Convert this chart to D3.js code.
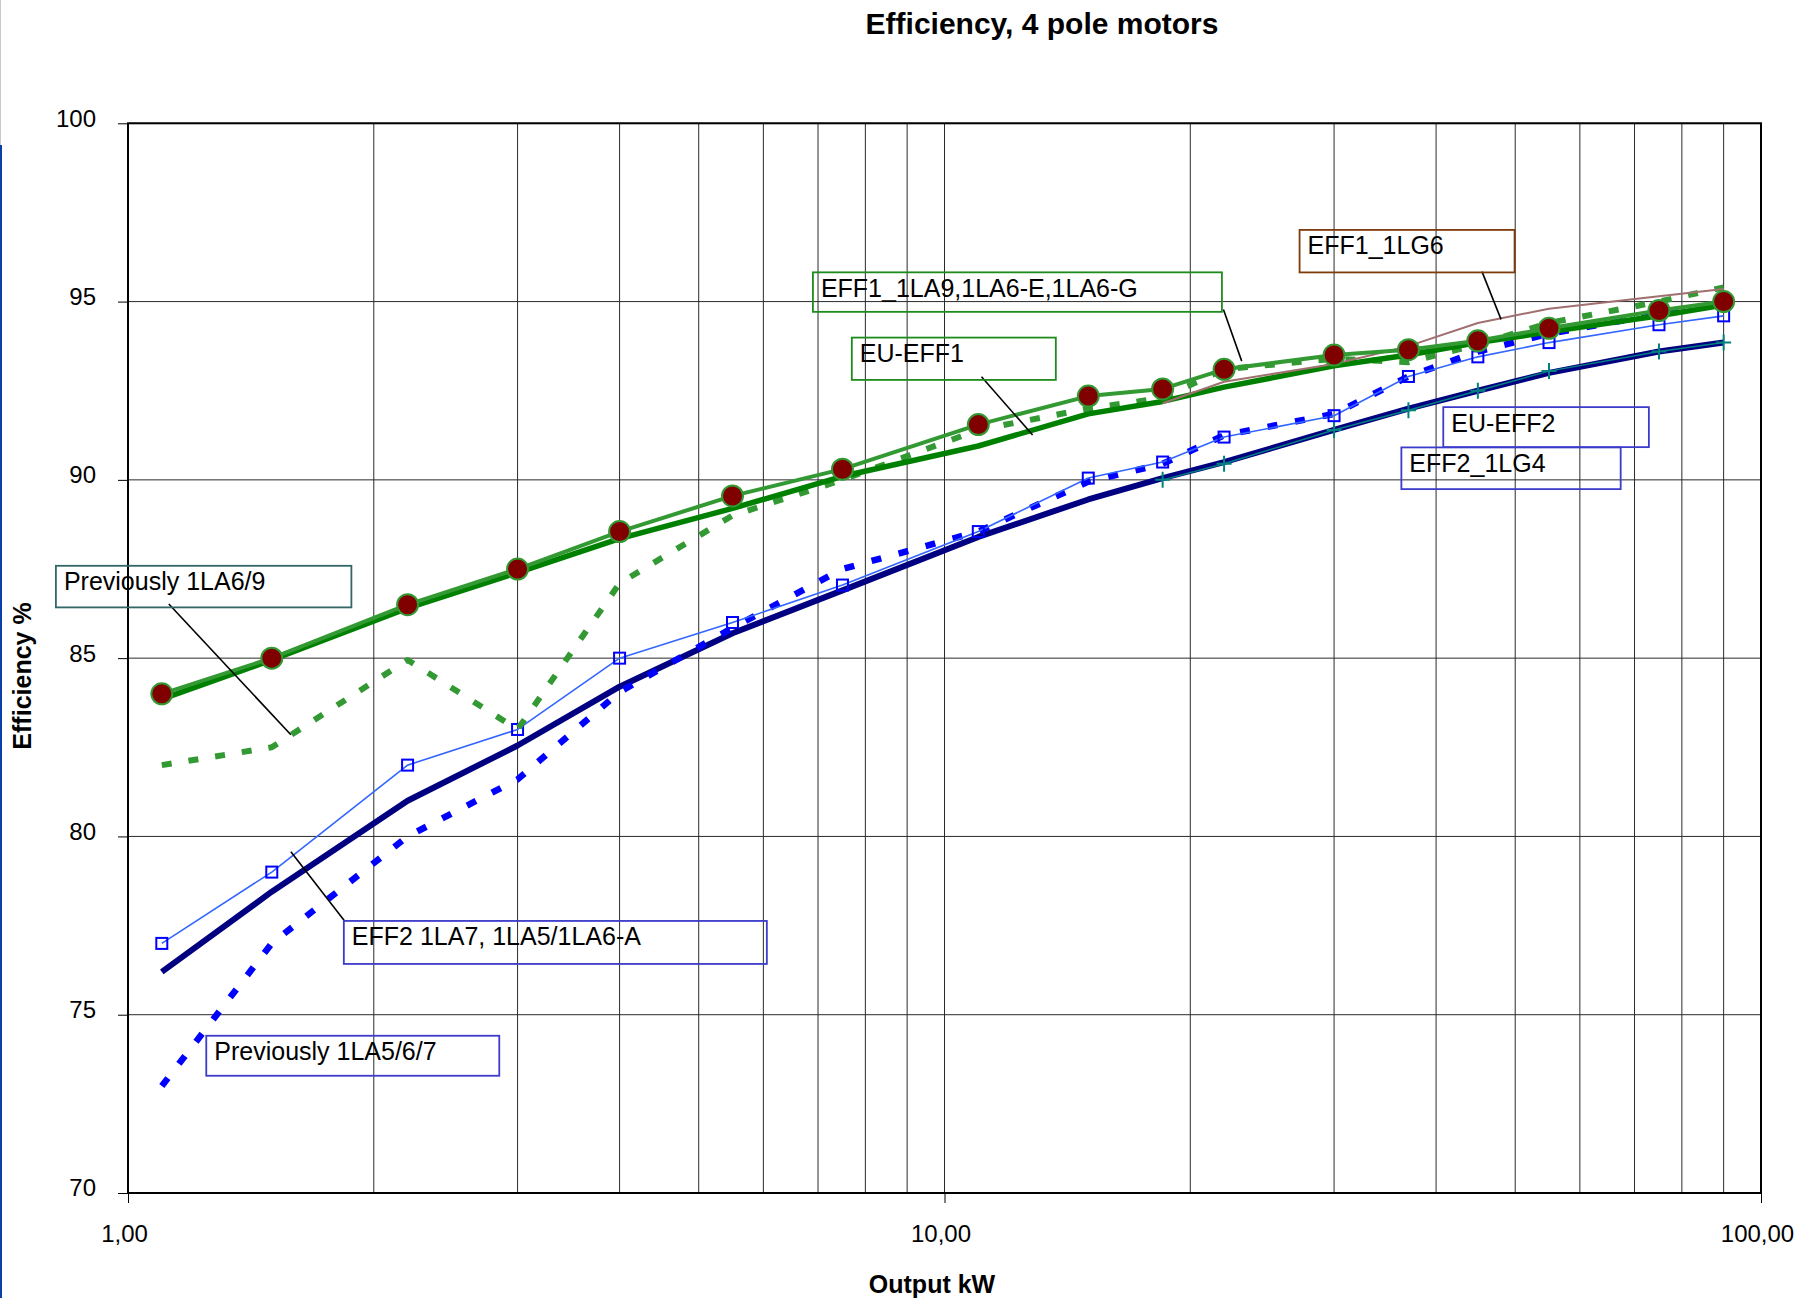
<!DOCTYPE html>
<html>
<head>
<meta charset="utf-8">
<script src="https://cdn.jsdelivr.net/npm/d3@7"></script>
<style>
    body { margin: 0; background: #fff; }
    svg { display: block; font-family: "Liberation Sans", Arial, sans-serif; }
</style>
</head>
<body>
<div id="page"></div>
<script>
// motor ratings, kW
var kw = [1.1, 1.5, 2.2, 3, 4, 5.5, 7.5, 11, 15, 18.5, 22, 30, 37, 45, 55, 75, 90];
var kwLG = [18.5, 22, 30, 37, 45, 55, 75, 90];

// efficiency %
var eff1LA9 = [84.0, 85.0, 86.5, 87.5, 88.55, 89.55, 90.3, 91.55, 92.35, 92.55, 93.1, 93.5, 93.65, 93.9, 94.25, 94.75, 95.0];
var euEff1 = [83.85, 84.95, 86.4, 87.4, 88.35, 89.2, 90.1, 90.95, 91.85, 92.2, 92.6, 93.2, 93.5, 93.85, 94.15, 94.6, 94.9];
var prev1LA69 = [82.0, 82.5, 84.95, 83.0, 87.1, 89.0, 90.0, 91.4, 92.0, 92.3, 93.1, 93.4, 93.3, 93.8, 94.4, 95.0, 95.4];
var eff1LG6 = [92.15, 92.75, 93.25, 93.75, 94.4, 94.8, 95.15, 95.35];
var euEff2 = [76.2, 78.45, 81.0, 82.55, 84.2, 85.7, 86.9, 88.4, 89.45, 90.05, 90.5, 91.4, 92.0, 92.5, 93.0, 93.6, 93.85];
var eff2LG4 = [90.0, 90.45, 91.4, 91.95, 92.5, 93.05, 93.6, 93.85];
var eff2LA7 = [77.0, 79.0, 82.0, 83.0, 85.0, 86.0, 87.05, 88.55, 90.05, 90.5, 91.2, 91.8, 92.9, 93.45, 93.85, 94.35, 94.6];
var prev1LA567 = [73.0, 77.0, 80.0, 81.6, 84.05, 85.85, 87.5, 88.55, 89.95, 90.45, 91.25, 91.85, 92.9, 93.6, 94.1, 94.65, 94.95];

var yTicks = [70, 75, 80, 85, 90, 95, 100];
var xTicks = [1, 10, 100];
var xGrid = [2, 3, 4, 5, 6, 7, 8, 9, 10, 20, 30, 40, 50, 60, 70, 80, 90];

var labelTexts = ['EFF1_1LA9,1LA6-E,1LA6-G', 'EFF1_1LG6', 'EU-EFF1', 'Previously 1LA6/9',
    'EFF2 1LA7, 1LA5/1LA6-A', 'Previously 1LA5/6/7', 'EU-EFF2', 'EFF2_1LG4'];

window.onload = () => {
    const W = 1796, H = 1298;
    let svg = d3.select('#page').append('svg').attr('width', W).attr('height', H);

    let x = d3.scaleLog().domain([1, 100]).range([128, 1761]);
    let y = d3.scaleLinear().domain([70, 100]).range([1193, 123.3]);

    // left edge of the scanned page
    svg.append('line').attr('x1', 0.5).attr('x2', 0.5).attr('y1', 0).attr('y2', 145).attr('stroke', '#c8c8c8').attr('stroke-width', 1);
    svg.append('line').attr('x1', 1).attr('x2', 1).attr('y1', 145).attr('y2', H).attr('stroke', '#0a3ea8').attr('stroke-width', 2);

    // grid
    let grid = svg.append('g').attr('stroke', '#2a2a2a').attr('stroke-width', 1);
    grid.selectAll('.vg').data(xGrid).join('line').attr('class', 'vg')
        .attr('x1', d => x(d)).attr('x2', d => x(d)).attr('y1', y(100)).attr('y2', y(70));
    grid.selectAll('.hg').data(yTicks).join('line').attr('class', 'hg')
        .attr('x1', x(1)).attr('x2', x(100)).attr('y1', d => y(d)).attr('y2', d => y(d));

    // axes
    let yAxis = svg.append('g').attr('transform', 'translate(' + x(1) + ',0)')
        .call(d3.axisLeft(y).tickValues(yTicks).tickSize(10).tickPadding(22).tickFormat(d3.format('d')));
    let xAxis = svg.append('g').attr('transform', 'translate(0,' + y(70) + ')')
        .call(d3.axisBottom(x).tickValues(xTicks).tickSize(10).tickPadding(22)
            .tickFormat(d => d3.format('.2f')(d).replace('.', ',')));
    [yAxis, xAxis].forEach(a => {
        a.select('.domain').remove();
        a.selectAll('line').attr('stroke', '#000');
        a.selectAll('text').attr('font-size', 24).attr('fill', '#000').attr('font-family', '"Liberation Sans", Arial, sans-serif');
    });
    yAxis.selectAll('text').attr('dy', '0.12em');
    xAxis.selectAll('text').attr('dx', -4);

    svg.append('rect').attr('x', x(1)).attr('y', y(100)).attr('width', x(100) - x(1)).attr('height', y(70) - y(100))
        .attr('fill', 'none').attr('stroke', '#000').attr('stroke-width', 2);

    // series
    let series = [
        { name: 'EU-EFF2', xs: kw, ys: euEff2, color: '#000080', width: 6 },
        { name: 'EFF2_1LG4', xs: kwLG, ys: eff2LG4, color: '#008080', width: 1.5, marker: 'plus' },
        { name: 'Previously 1LA5/6/7', xs: kw, ys: prev1LA567, color: '#0000ff', width: 6.5, dash: '10,18' },
        { name: 'EFF2 1LA7, 1LA5/1LA6-A', xs: kw, ys: eff2LA7, color: '#3366ff', width: 1.6, marker: 'square' },
        { name: 'Previously 1LA6/9', xs: kw, ys: prev1LA69, color: '#339933', width: 6, dash: '10,17' },
        { name: 'EU-EFF1', xs: kw, ys: euEff1, color: '#008000', width: 5.5 },
        { name: 'EFF1_1LG6', xs: kwLG, ys: eff1LG6, color: '#a07070', width: 2 },
        { name: 'EFF1_1LA9,1LA6-E,1LA6-G', xs: kw, ys: eff1LA9, color: '#339933', width: 4, marker: 'circle' }
    ];
    let line = d3.line().x(d => x(d[0])).y(d => y(d[1]));
    series.forEach(s => {
        let pts = d3.zip(s.xs, s.ys);
        svg.append('path').datum(pts).attr('d', line)
            .attr('fill', 'none').attr('stroke', s.color).attr('stroke-width', s.width)
            .attr('stroke-dasharray', s.dash || null).attr('stroke-linejoin', 'round');
        let g = svg.append('g');
        if (s.marker == 'circle') {
            g.selectAll('circle').data(pts).join('circle')
                .attr('cx', d => x(d[0])).attr('cy', d => y(d[1])).attr('r', 10.5)
                .attr('fill', '#800000').attr('stroke', '#339933').attr('stroke-width', 2);
        }
        if (s.marker == 'square') {
            g.selectAll('rect').data(pts).join('rect')
                .attr('x', d => x(d[0]) - 5.5).attr('y', d => y(d[1]) - 5.5).attr('width', 11).attr('height', 11)
                .attr('fill', 'none').attr('stroke', '#0000ff').attr('stroke-width', 2);
        }
        if (s.marker == 'plus') {
            g.selectAll('path').data(pts).join('path')
                .attr('d', d => 'M' + (x(d[0]) - 7.5) + ',' + y(d[1]) + 'h15M' + x(d[0]) + ',' + (y(d[1]) - 8) + 'v16')
                .attr('stroke', '#008080').attr('stroke-width', 2);
        }
    });

    // callout boxes: top-left corner in kW / % plus box size, leader ends in kW / %
    let callouts = [
        { text: labelTexts[0], kw: 6.90, eff: 95.82, w: 409, h: 39.5, color: '#1d8c1d', leader: [[21.96, 94.78], [23.12, 93.33]] },
        { text: labelTexts[1], kw: 27.22, eff: 97.01, w: 215, h: 42.5, color: '#7f3c0a', leader: [[45.53, 95.84], [48.04, 94.5]] },
        { text: labelTexts[2], kw: 7.70, eff: 93.99, w: 204, h: 42.3, color: '#1d8c1d', leader: [[11.10, 92.89], [12.82, 91.26]] },
        { text: labelTexts[3], kw: 0.816, eff: 87.59, w: 295.5, h: 41.6, color: '#336666', leader: [[1.122, 86.52], [1.583, 82.85]] },
        { text: labelTexts[4], kw: 1.838, eff: 77.63, w: 423, h: 43, color: '#3c3ccc', leader: [[1.583, 79.57], [1.842, 77.63]] },
        { text: labelTexts[5], kw: 1.247, eff: 74.41, w: 293, h: 40, color: '#3c3ccc' },
        { text: labelTexts[6], kw: 40.82, eff: 92.04, w: 205.6, h: 40, color: '#3c3ccc' },
        { text: labelTexts[7], kw: 36.27, eff: 90.91, w: 219.3, h: 41.7, color: '#3c3ccc' }
    ];
    let cg = svg.append('g');
    callouts.forEach(c => {
        let bx = x(c.kw), by = y(c.eff);
        if (c.leader) {
            cg.append('line')
                .attr('x1', x(c.leader[0][0])).attr('y1', y(c.leader[0][1]))
                .attr('x2', x(c.leader[1][0])).attr('y2', y(c.leader[1][1]))
                .attr('stroke', '#000').attr('stroke-width', 1.6);
        }
        cg.append('rect').attr('x', bx).attr('y', by).attr('width', c.w).attr('height', c.h)
            .attr('fill', 'none').attr('stroke', c.color).attr('stroke-width', 1.8);
        cg.append('text').attr('x', bx + 8).attr('y', by + 24.5)
            .attr('font-size', 25).attr('fill', '#000').text(c.text);
    });

    // titles
    svg.append('text').attr('x', 1042).attr('y', 34).attr('text-anchor', 'middle')
        .attr('font-size', 30).attr('font-weight', 'bold').text('Efficiency, 4 pole motors');
    svg.append('text').attr('transform', 'translate(31,676) rotate(-90)').attr('text-anchor', 'middle')
        .attr('font-size', 25).attr('font-weight', 'bold').text('Efficiency %');
    svg.append('text').attr('x', 932).attr('y', 1293).attr('text-anchor', 'middle')
        .attr('font-size', 25).attr('font-weight', 'bold').text('Output kW');
};
</script>
</body>
</html>
